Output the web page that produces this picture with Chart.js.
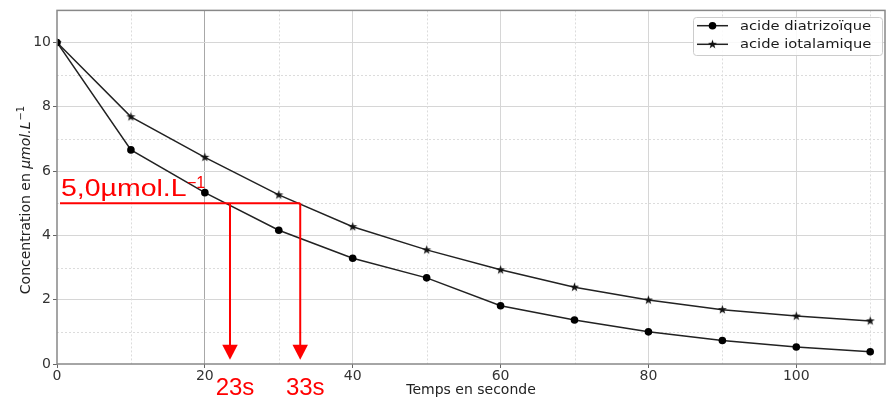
<!DOCTYPE html>
<html><head><meta charset="utf-8">
<script src="https://cdn.jsdelivr.net/npm/chart.js@4"></script>
<style>html,body{margin:0;padding:0;background:#fff}</style>
</head><body>
<canvas id="c" width="891" height="398"></canvas>
<script>
// ---- data ----
const times = [0,10,20,30,40,50,60,70,80,90,100,110];
const diatrizoique = [10,6.66,5.33,4.16,3.29,2.68,1.81,1.37,1.00,0.73,0.53,0.38];
const iotalamique  = [10,7.69,6.43,5.26,4.27,3.55,2.93,2.39,1.99,1.69,1.49,1.34];
const seriesLabels = ['acide diatrizoïque','acide iotalamique'];
const xTickLabels = [0,20,40,60,80,100];
const yTickLabels = [0,2,4,6,8,10];
const xMinor = [10,30,50,70,90,110];
const yMinor = [1,3,5,7,9];
const levelValue = 5.0;
const levelLabel = '5,0µmol.L';
const levelSup = '−1';
const halfTimes = [23.4, 32.9];
const halfTimeLabels = ['23s','33s'];
const xTitle = 'Temps en seconde';
const yTitleParts = ['Concentration en ', 'µmol.L', '−1'];

const TICKFONT = {family:'"DejaVu Sans"', size:14};

const starImg = (() => {
  const c = document.createElement('canvas'); c.width = 11; c.height = 11;
  const g = c.getContext('2d'); g.fillStyle = '#111'; g.beginPath();
  for (let i = 0; i < 10; i++) {
    const r = i % 2 ? 1.9 : 4.8, a = -Math.PI/2 + i*Math.PI/5;
    const px = 5.5 + r*Math.cos(a), py = 5.5 + r*Math.sin(a);
    i ? g.lineTo(px,py) : g.moveTo(px,py);
  }
  g.closePath(); g.fill(); return c;
})();

function drawMarker(ctx, style, x, y) {
  if (style === 'circle') { ctx.beginPath(); ctx.arc(x, y, 3.8, 0, Math.PI*2); ctx.fillStyle = '#000'; ctx.fill(); }
  else ctx.drawImage(starImg, x - 5.5, y - 5.5);
}

const plugin = {
  id: 'extras',
  beforeDatasetsDraw(chart) {
    const {ctx, chartArea: a, scales: {x, y}} = chart;
    ctx.save(); ctx.strokeStyle = '#dcdcdc'; ctx.lineWidth = 1; ctx.setLineDash([2,2]);
    yMinor.forEach(v => { const p = Math.round(y.getPixelForValue(v)) + 0.5; ctx.beginPath(); ctx.moveTo(a.left, p); ctx.lineTo(a.right, p); ctx.stroke(); });
    xMinor.forEach(v => { const p = Math.round(x.getPixelForValue(v)) + 0.5; ctx.beginPath(); ctx.moveTo(p, a.top); ctx.lineTo(p, a.bottom); ctx.stroke(); });
    ctx.restore();
  },
  afterDatasetsDraw(chart) {
    const {ctx, chartArea: a, scales: {x, y}} = chart;
    ctx.save();
    // frame
    ctx.strokeStyle = '#888'; ctx.lineWidth = 1.5;
    ctx.strokeRect(a.left, a.top, a.right - a.left, a.bottom - a.top);
    // red annotation
    const red = '#ff0000';
    const py = y.getPixelForValue(levelValue);
    const xEnd = x.getPixelForValue(halfTimes[halfTimes.length - 1]);
    ctx.strokeStyle = red; ctx.fillStyle = red; ctx.lineWidth = 2;
    ctx.beginPath(); ctx.moveTo(a.left + 3, py); ctx.lineTo(xEnd, py); ctx.stroke();
    const tipY = a.bottom - 4.3, headH = 15, headW = 15.5;
    halfTimes.forEach((t, i) => {
      const px = x.getPixelForValue(t);
      ctx.beginPath(); ctx.moveTo(px, py); ctx.lineTo(px, tipY - headH + 1); ctx.stroke();
      ctx.beginPath(); ctx.moveTo(px - headW/2, tipY - headH); ctx.lineTo(px + headW/2, tipY - headH); ctx.lineTo(px, tipY); ctx.closePath(); ctx.fill();
      ctx.font = '24px "Liberation Sans"'; ctx.textAlign = 'center'; ctx.textBaseline = 'alphabetic';
      ctx.fillText(halfTimeLabels[i], px + 5, 395);
    });
    // level label, slightly widened
    ctx.textAlign = 'left';
    ctx.font = '24px "Liberation Sans"';
    const w = ctx.measureText(levelLabel).width;
    const sx = 125.5 / w;
    const lx = a.left + 4, ly = py - 7.6;
    ctx.save(); ctx.translate(lx, ly); ctx.scale(sx, 1); ctx.fillText(levelLabel, 0, 0); ctx.restore();
    ctx.font = '16px "Liberation Sans"';
    ctx.fillText(levelSup, lx + w*sx + 0.5, ly - 8);
    ctx.restore();
  },
  afterDraw(chart) {
    const {ctx, chartArea: a} = chart;
    ctx.save();
    // legend
    const bx = 693, by = 17, bw = 189, bh = 38, r = 3;
    ctx.fillStyle = 'rgba(255,255,255,0.85)'; ctx.strokeStyle = '#cccccc'; ctx.lineWidth = 1;
    ctx.beginPath(); ctx.roundRect(bx + 0.5, by + 0.5, bw, bh, r); ctx.fill(); ctx.stroke();
    ctx.font = '13px "DejaVu Sans"'; ctx.textBaseline = 'middle'; ctx.textAlign = 'left';
    const ls = 131 / ctx.measureText(seriesLabels[0]).width;
    chart.data.datasets.forEach((ds, i) => {
      const yy = 25.7 + i*18.6;
      ctx.strokeStyle = '#222'; ctx.lineWidth = 1.5;
      ctx.beginPath(); ctx.moveTo(697, yy); ctx.lineTo(728, yy); ctx.stroke();
      drawMarker(ctx, i === 0 ? 'circle' : 'star', 712.5, yy);
      ctx.fillStyle = '#1a1a1a';
      ctx.save(); ctx.translate(740, yy + 0.5); ctx.scale(ls, 1); ctx.fillText(ds.label, 0, 0); ctx.restore();
    });
    // x title
    ctx.fillStyle = '#222'; ctx.textAlign = 'center'; ctx.textBaseline = 'alphabetic';
    ctx.font = '14px "DejaVu Sans"';
    ctx.fillText(xTitle, (a.left + a.right)/2, 393.5);
    // y title (mixed italic)
    const f0 = '14px "DejaVu Sans"', f1 = 'italic 14px "DejaVu Sans"', f2 = '10px "DejaVu Sans"';
    ctx.font = f0; const w0 = ctx.measureText(yTitleParts[0]).width;
    ctx.font = f1; const w1 = ctx.measureText(yTitleParts[1]).width;
    ctx.font = f2; const w2 = ctx.measureText(yTitleParts[2]).width;
    const tot = w0 + w1 + w2 + 1;
    ctx.translate(30, 200); ctx.rotate(-Math.PI/2); ctx.textAlign = 'left';
    let sx0 = -tot/2;
    ctx.font = f0; ctx.fillText(yTitleParts[0], sx0, 0); sx0 += w0;
    ctx.font = f1; ctx.fillText(yTitleParts[1], sx0, 0); sx0 += w1 + 1;
    ctx.font = f2; ctx.fillText(yTitleParts[2], sx0, -6);
    ctx.restore();
  }
};

const toPts = arr => times.map((t, i) => ({x: t, y: arr[i]}));

new Chart(document.getElementById('c'), {
  type: 'line',
  data: {
    datasets: [
      {label: seriesLabels[0], data: toPts(diatrizoique), borderColor: '#222', borderWidth: 1.5,
       pointStyle: 'circle', pointRadius: 3.8, pointHoverRadius: 3.8, pointBackgroundColor: '#000', pointBorderWidth: 0, tension: 0},
      {label: seriesLabels[1], data: toPts(iotalamique), borderColor: '#222', borderWidth: 1.5,
       pointStyle: starImg, pointRadius: 5, pointBackgroundColor: '#000', pointBorderWidth: 0, tension: 0}
    ]
  },
  options: {
    responsive: false, animation: false, devicePixelRatio: 1,
    layout: {padding: {top: 9, right: 6, left: 0, bottom: 0}},
    plugins: {legend: {display: false}, tooltip: {enabled: false}},
    events: [],
    scales: {
      x: {
        type: 'linear', min: 0, max: 112,
        afterFit: s => { s.height = 34; },
        ticks: {stepSize: 10, autoSkip: false, maxRotation: 0, padding: 0, color: '#333', font: TICKFONT,
                callback: v => xTickLabels.includes(v) ? String(v) : ''},
        grid: {tickLength: 4,
               color: c => { const v = c.tick && c.tick.value; if (v === 20) return '#a8a8a8'; return (xTickLabels.includes(v) && v > 0) ? '#d6d6d6' : 'rgba(0,0,0,0)'; },
               tickColor: c => xTickLabels.includes(c.tick && c.tick.value) ? '#666' : 'rgba(0,0,0,0)'},
        border: {display: false}
      },
      y: {
        type: 'linear', min: 0, max: 11,
        afterFit: s => { s.width = 57; },
        ticks: {stepSize: 1, autoSkip: false, padding: 2, color: '#333', font: TICKFONT,
                callback: v => yTickLabels.includes(v) ? String(v) : ''},
        grid: {tickLength: 4,
               color: c => { const v = c.tick && c.tick.value; return (yTickLabels.includes(v) && v > 0) ? '#d6d6d6' : 'rgba(0,0,0,0)'; },
               tickColor: c => yTickLabels.includes(c.tick && c.tick.value) ? '#666' : 'rgba(0,0,0,0)'},
        border: {display: false}
      }
    }
  },
  plugins: [plugin]
});
</script>
</body></html>
